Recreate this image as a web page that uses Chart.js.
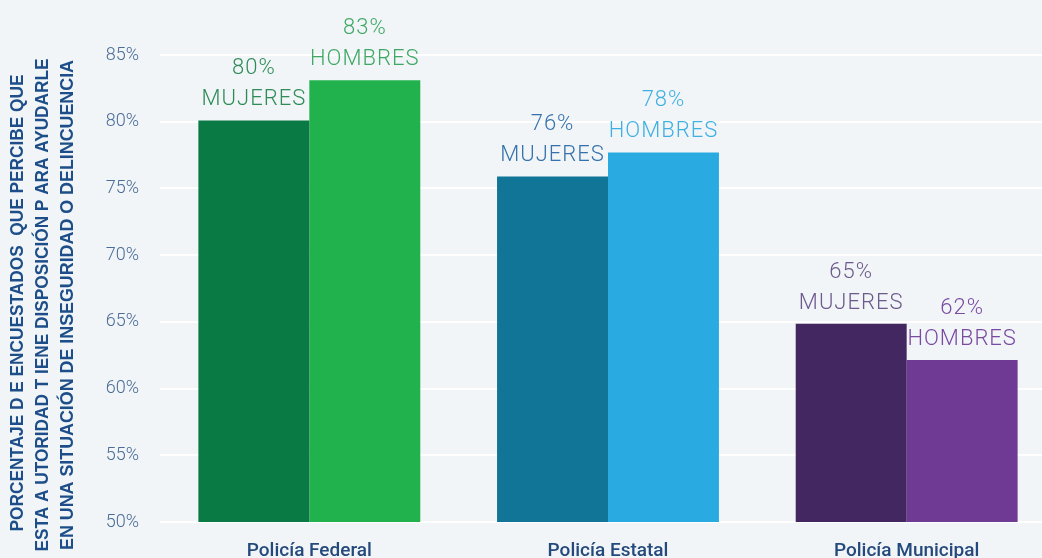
<!DOCTYPE html>
<html><head><meta charset="utf-8">
<script src="https://cdn.jsdelivr.net/npm/chart.js@4.4.1/dist/chart.umd.min.js"></script>
<style>
html,body{margin:0;padding:0;background:#f1f5f7;overflow:hidden;}
#wrap{position:relative;width:1042px;height:558px;overflow:hidden;}
</style></head>
<body><div id="wrap"><canvas id="c" width="1056" height="558"></canvas></div>
<script>
const categories = ["Policía Federal", "Policía Estatal", "Policía Municipal"];
const mujeres = [80.1, 75.9, 64.85];
const hombres = [83.1, 77.7, 62.15];
const mujeresLabels = ["80%", "76%", "65%"];
const hombresLabels = ["83%", "78%", "62%"];
const mujeresColors = ["#0a7a45", "#117598", "#432760"];
const hombresColors = ["#21b24e", "#29abe2", "#6e3a94"];
const mujeresTextColors = ["#2f8c58", "#3572ad", "#6d5a8c"];
const hombresTextColors = ["#3fa865", "#3fb0e2", "#7a4aa3"];
const yTitle = ["PORCENTAJE D E ENCUESTADOS  QUE PERCIBE QUE",
                "ESTA A UTORIDAD T IENE DISPOSICIÓN P ARA AYUDARLE",
                "EN UNA SITUACIÓN DE INSEGURIDAD O DELINCUENCIA"];

const bgPlugin = {
  id: 'bg',
  beforeDraw(chart) {
    const ctx = chart.ctx;
    ctx.save(); ctx.fillStyle = '#f1f5f7';
    ctx.fillRect(0, 0, chart.width, chart.height); ctx.restore();
  }
};
const labelPlugin = {
  id: 'lbl',
  afterDatasetsDraw(chart) {
    const ctx = chart.ctx;
    ctx.save();
    ctx.font = '300 22px Roboto';
    ctx.letterSpacing = '1px';
    ctx.textAlign = 'center';
    ctx.textBaseline = 'alphabetic';
    chart.data.datasets.forEach((ds, di) => {
      const meta = chart.getDatasetMeta(di);
      meta.data.forEach((bar, i) => {
        const pct = di === 0 ? mujeresLabels[i] : hombresLabels[i];
        const name = di === 0 ? 'MUJERES' : 'HOMBRES';
        ctx.fillStyle = di === 0 ? mujeresTextColors[i] : hombresTextColors[i];
        ctx.fillText(name, bar.x, bar.y - 15);
        ctx.fillText(pct, bar.x, bar.y - 46);
      });
    });
    ctx.restore();
    // y title
    ctx.save();
    ctx.font = 'bold 18px "Liberation Sans Narrow", "Liberation Sans", Arial';
    ctx.fillStyle = '#1d4e89';
    ctx.textAlign = 'center';
    ctx.textBaseline = 'middle';
    const xs = [18, 43, 68];
    const lens = [457, 493, 490];
    const cys = [303, 305, 305];
    yTitle.forEach((t, k) => {
      const w = ctx.measureText(t).width;
      ctx.save();
      ctx.translate(xs[k], cys[k]);
      ctx.rotate(-Math.PI / 2);
      ctx.scale(lens[k] / w, 1);
      ctx.fillText(t, 0, 0);
      ctx.restore();
    });
    ctx.restore();
  }
};

new Chart(document.getElementById('c'), {
  type: 'bar',
  data: {
    labels: categories,
    datasets: [
      { label: 'Mujeres', data: mujeres, backgroundColor: mujeresColors },
      { label: 'Hombres', data: hombres, backgroundColor: hombresColors }
    ]
  },
  options: {
    responsive: false,
    animation: false,
    layout: { padding: { top: 55, right: 0, bottom: 0, left: 0 } },
    plugins: { legend: { display: false }, tooltip: { enabled: false } },
    datasets: { bar: { categoryPercentage: 0.743, barPercentage: 1.0 } },
    scales: {
      x: {
        grid: { display: false, drawTicks: false },
        border: { display: false },
        ticks: { color: '#24497c', font: { family: 'Roboto', size: 19, weight: '500' }, padding: 18 },
        afterFit(s) { s.height = 36; }
      },
      y: {
        min: 50, max: 85,
        ticks: { stepSize: 5, color: '#4a6c98', padding: 21,
          font: { family: 'Roboto', size: 18, weight: '300' },
          callback: v => v + '%' },
        grid: { color: '#ffffff', lineWidth: 2, drawTicks: false },
        border: { display: false },
        afterFit(s) { s.width = 160; }
      }
    }
  },
  plugins: [bgPlugin, labelPlugin]
});
</script></body></html>
